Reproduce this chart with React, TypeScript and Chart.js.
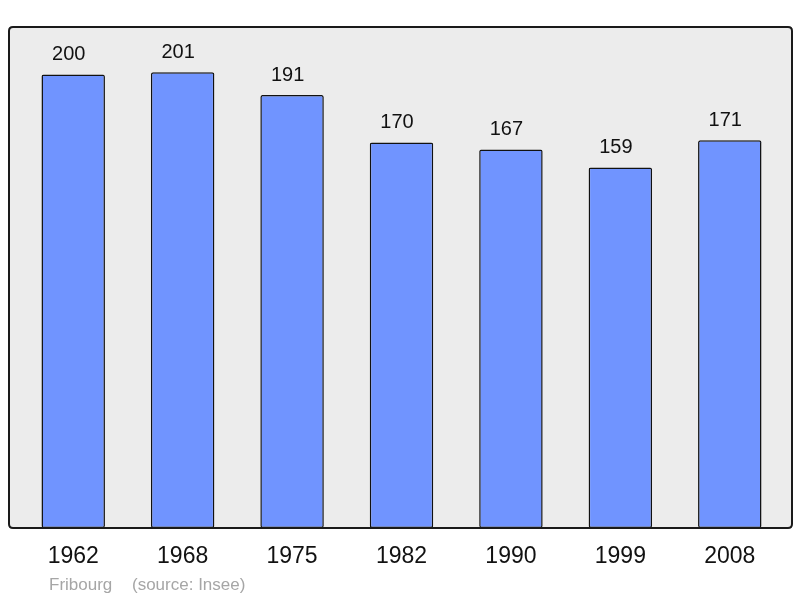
import React, { useEffect, useRef } from "react";
import { Chart, registerables } from "chart.js";

Chart.register(...registerables);

const years = ["1962", "1968", "1975", "1982", "1990", "1999", "2008"];
const population = [200, 201, 191, 170, 167, 159, 171];
const townName = "Fribourg";
const sourceText = "(source: Insee)";

const FONT = "'Liberation Sans', Arial, sans-serif";

function framePath(ctx: CanvasRenderingContext2D) {
  const x = 9, y = 27, w = 783, h = 501, r = 4;
  ctx.beginPath();
  ctx.moveTo(x + r, y);
  ctx.lineTo(x + w - r, y);
  ctx.quadraticCurveTo(x + w, y, x + w, y + r);
  ctx.lineTo(x + w, y + h - r);
  ctx.quadraticCurveTo(x + w, y + h, x + w - r, y + h);
  ctx.lineTo(x + r, y + h);
  ctx.quadraticCurveTo(x, y + h, x, y + h - r);
  ctx.lineTo(x, y + r);
  ctx.quadraticCurveTo(x, y, x + r, y);
  ctx.closePath();
}

const framePlugin = {
  id: "frame",
  beforeDraw(chart: any) {
    const ctx = chart.ctx;
    ctx.save();
    framePath(ctx);
    ctx.fillStyle = "#ececec";
    ctx.fill();
    ctx.restore();
  },
  afterDatasetsDraw(chart: any) {
    const ctx = chart.ctx;
    ctx.save();
    framePath(ctx);
    ctx.strokeStyle = "#1a1a1a";
    ctx.lineWidth = 2;
    ctx.stroke();

    // value labels
    const meta = chart.getDatasetMeta(0);
    ctx.fillStyle = "#111";
    ctx.font = `20px ${FONT}`;
    ctx.textAlign = "center";
    ctx.textBaseline = "alphabetic";
    meta.data.forEach((bar: any, i: number) => {
      ctx.fillText(String(population[i]), bar.x - 4.5, bar.y - 14.5);
    });

    // footer
    ctx.fillStyle = "#a6a6a6";
    ctx.font = `17px ${FONT}`;
    ctx.textAlign = "left";
    ctx.textBaseline = "alphabetic";
    ctx.fillText(townName, 49, 590);
    ctx.fillText(sourceText, 132, 590);
    ctx.restore();
  },
};

export default function App() {
  const ref = useRef<HTMLCanvasElement>(null);
  useEffect(() => {
    if (!ref.current) return;
    const chart = new Chart(ref.current, {
      type: "bar",
      data: {
        labels: years,
        datasets: [
          {
            data: population,
            backgroundColor: "#7094ff",
            borderColor: "#111",
            borderWidth: 1.5,
            borderRadius: 2,
            borderSkipped: false,
            categoryPercentage: 1,
            barPercentage: 0.58,
          },
        ],
      },
      options: {
        responsive: false,
        animation: false,
        events: [],
        layout: { padding: { left: 18.5, right: 15.5, top: 27, bottom: 0 } },
        plugins: {
          legend: { display: false },
          tooltip: { enabled: false },
          title: { display: false },
        },
        scales: {
          y: { display: false, min: 0, max: 221 },
          x: {
            grid: { display: false },
            border: { display: false },
            ticks: {
              color: "#111",
              font: { size: 23, family: FONT },
              padding: 7,
              maxRotation: 0,
            },
            afterFit: (scale: any) => {
              scale.height = 70;
            },
          },
        },
      },
      plugins: [framePlugin],
    });
    return () => chart.destroy();
  }, []);
  return (
    <div style={{ position: "fixed", left: 0, top: 0, width: 800, height: 598, background: "#fff" }}>
      <canvas ref={ref} width={800} height={598} style={{ width: 800, height: 598, display: "block" }} />
    </div>
  );
}
